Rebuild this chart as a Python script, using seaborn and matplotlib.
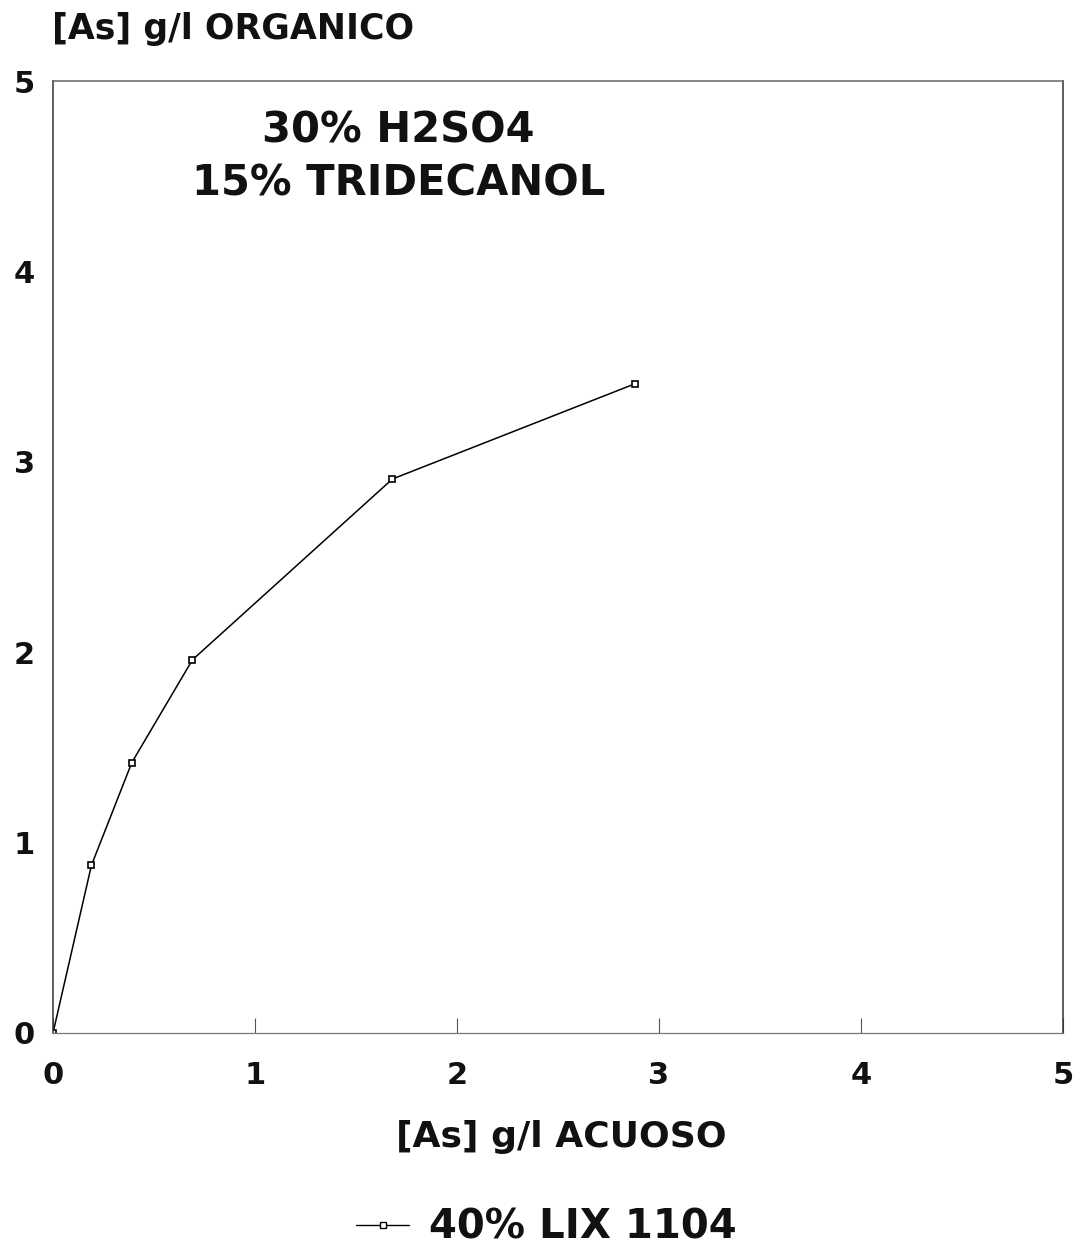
import matplotlib.pyplot as plt
import seaborn as sns
import pandas as pd

# isotherm readings, [As] g/l
acuoso = [0.0, 0.19, 0.39, 0.69, 1.68, 2.88]
organico = [0.0, 0.88, 1.42, 1.96, 2.91, 3.41]
serie = '40% LIX 1104'
ticks = [0, 1, 2, 3, 4, 5]

df = pd.DataFrame({'acuoso': acuoso, 'organico': organico, 'serie': serie})

sns.set_theme(style='ticks')
plt.rcParams['font.family'] = ['DejaVu Sans']
plt.rcParams['font.weight'] = 'bold'
plt.rcParams['text.color'] = '#111111'
plt.rcParams['xtick.labelcolor'] = '#111111'
plt.rcParams['ytick.labelcolor'] = '#111111'

fig = plt.figure(figsize=(10.82, 12.49), dpi=100)
ax = fig.add_axes([0.049, 0.173, 0.9335, 0.762])

sns.lineplot(data=df, x='acuoso', y='organico', hue='serie', palette=['black'],
             marker='s', markersize=5, markerfacecolor='white', markeredgecolor='black',
             markeredgewidth=1.2, linewidth=1.1, ax=ax, legend=False)

ax.set_xlim(0, 5)
ax.set_ylim(0, 5)
ax.set_xticks(ticks)
ax.set_yticks(ticks)
ax.tick_params(axis='x', direction='in', length=11, width=0.8, color='#555555',
               labelsize=22, pad=20)
ax.tick_params(axis='y', length=0, labelsize=22, pad=13)
for name, sp in ax.spines.items():
    sp.set_linewidth(1.1)
    sp.set_color('#333333')
ax.spines['bottom'].set_color('#777777')
ax.spines['bottom'].set_linewidth(0.9)
ax.spines['top'].set_color('#666666')
ax.set_xlabel('')
ax.set_ylabel('')

ax.text(1.71, 4.74, '30% H2SO4', ha='center', va='center', fontsize=30)
ax.text(1.71, 4.46, '15% TRIDECANOL', ha='center', va='center', fontsize=30)

fig.text(0.048, 0.977, '[As] g/l ORGANICO', ha='left', va='center', fontsize=25)
fig.text(0.519, 0.09, '[As] g/l ACUOSO', ha='center', va='center', fontsize=26)

# legend drawn as a single handle below the axis title
h = plt.Line2D([], [], color='black', linewidth=1.0, marker='s', markersize=4,
               markerfacecolor='white', markeredgecolor='black')
fig.legend([h], [serie], loc='center', bbox_to_anchor=(0.505, 0.017), frameon=False,
           fontsize=29, handlelength=1.3, handletextpad=0.5)

fig.savefig('out.png', dpi=100, facecolor='white')
